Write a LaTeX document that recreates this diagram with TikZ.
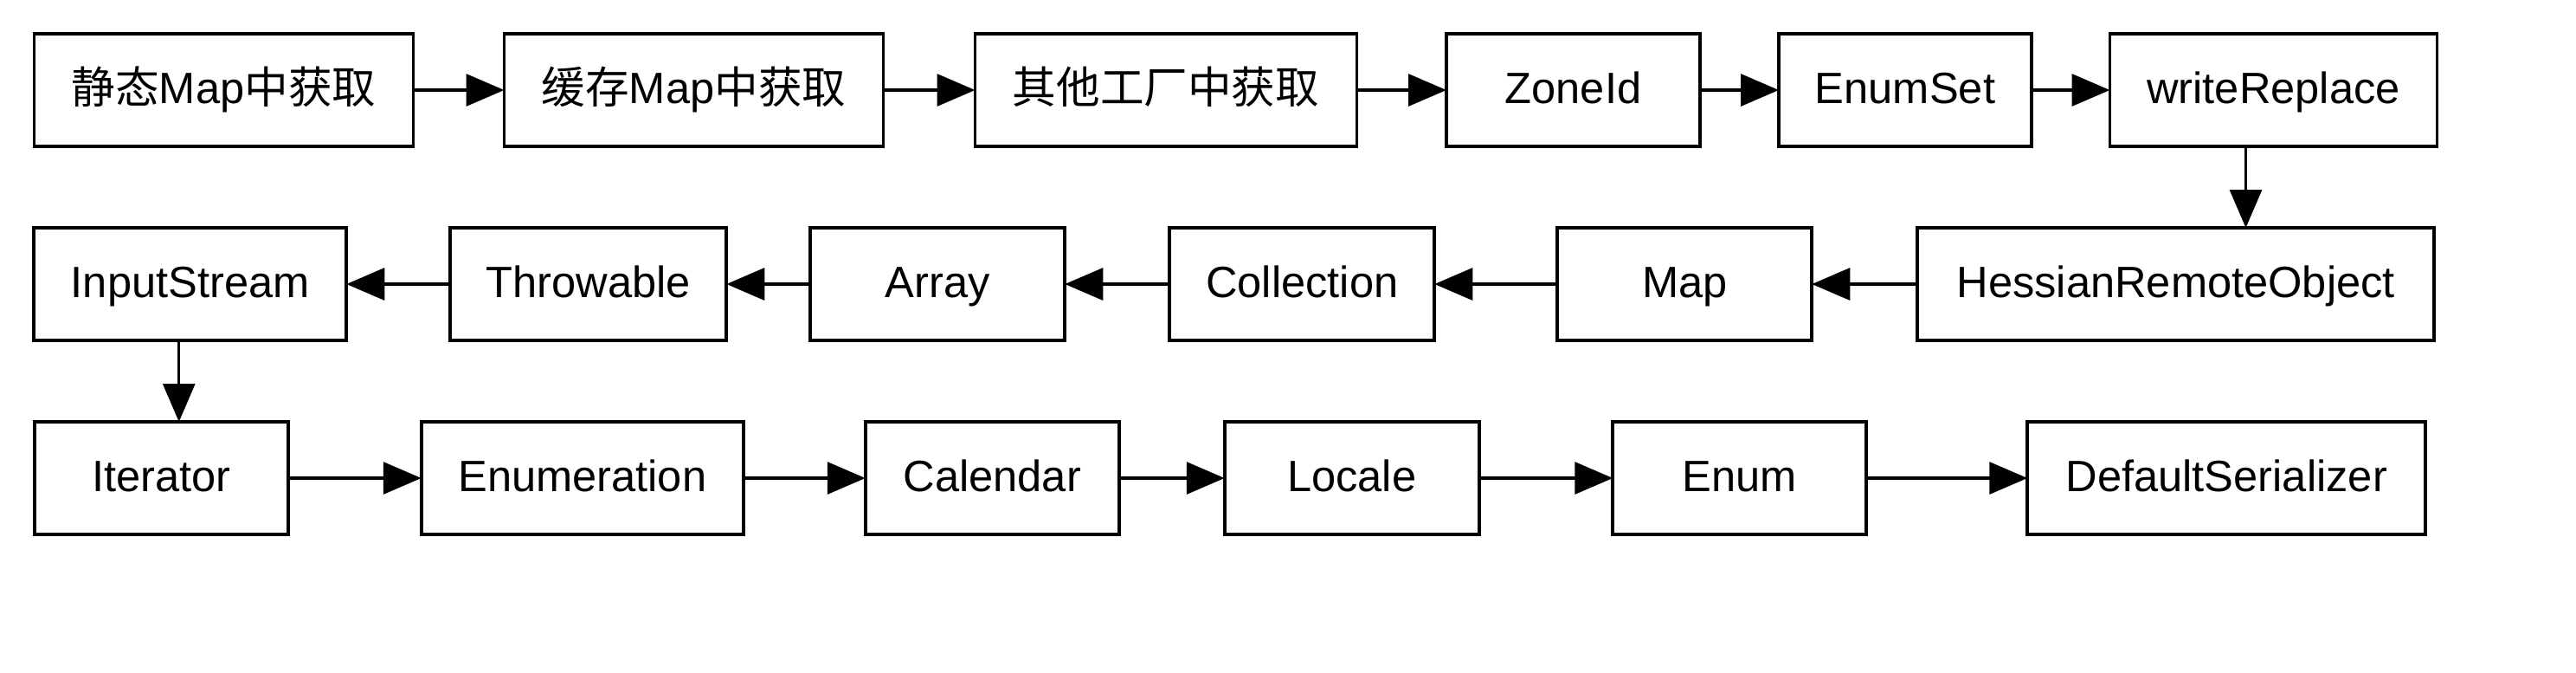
\documentclass[tikz,border=0pt]{standalone}
\usepackage{fontspec}
\setmainfont{Liberation Sans}
\newfontfamily\cjk{Noto Sans CJK SC}
\usetikzlibrary{arrows.meta,positioning}
\tikzset{
  stagebox/.style={
    rectangle, draw=black, line width=1.1pt,
    minimum width=#1, minimum height=1.3cm,
    font=\fontsize{14.4}{17}\selectfont, align=center,
    text height=11.5pt, text depth=2.9pt, inner sep=2pt, outer sep=0pt
  },
  stagebox/.default=2.93cm,
  flowarrow/.style={
    -{Triangle[length=0.44cm, width=0.37cm]}, line width=0.9pt, color=black
  },
}
\begin{document}
\begin{tikzpicture}
\useasboundingbox (0,0) rectangle (29.76,-7.76);

% Row 1: lookup order
\node[stagebox=4.38cm] (static) at (2.585,-1.04) {{\cjk 静态}Map{\cjk 中获取}};
\node[stagebox=4.38cm, right=1.05cm of static] (cache) {{\cjk 缓存}Map{\cjk 中获取}};
\node[stagebox=4.41cm, right=1.06cm of cache] (factory) {\cjk 其他工厂中获取};
\node[stagebox, right=1.035cm of factory] (zoneid) {ZoneId};
\node[stagebox=2.92cm, right=0.91cm of zoneid] (enumset) {EnumSet};
\node[stagebox=3.78cm, right=0.905cm of enumset] (writerepl) {writeReplace};

% Row 2: right to left
\node[stagebox=3.61cm] (instream) at (2.1975,-3.28) {InputStream};
\node[stagebox=3.19cm, right=1.2cm of instream] (throwable) {Throwable};
\node[stagebox=2.94cm, right=0.97cm of throwable] (array) {Array};
\node[stagebox=3.06cm, right=1.21cm of array] (collection) {Collection};
\node[stagebox=2.94cm, right=1.42cm of collection] (mapnode) {Map};
\node[stagebox=5.97cm, right=1.22cm of mapnode] (hessian) {HessianRemoteObject};

% Row 3: left to right
\node[stagebox] (iterator) at (1.8625,-5.52) {Iterator};
\node[stagebox=3.72cm, right=1.54cm of iterator] (enumeration) {Enumeration};
\node[stagebox, right=1.41cm of enumeration] (calendar) {Calendar};
\node[stagebox=2.94cm, right=1.22cm of calendar] (locale) {Locale};
\node[stagebox, right=1.545cm of locale] (enumnode) {Enum};
\node[stagebox=4.6cm, right=1.86cm of enumnode] (defser) {DefaultSerializer};

% connectors
\draw[flowarrow] (static) -- (cache);
\draw[flowarrow] (cache) -- (factory);
\draw[flowarrow] (factory) -- (zoneid);
\draw[flowarrow] (zoneid) -- (enumset);
\draw[flowarrow] (enumset) -- (writerepl);
\draw[flowarrow] ([xshift=-0.32cm]writerepl.south) -- ([xshift=-0.32cm]writerepl.south |- hessian.north);
\draw[flowarrow] (hessian) -- (mapnode);
\draw[flowarrow] (mapnode) -- (collection);
\draw[flowarrow] (collection) -- (array);
\draw[flowarrow] (array) -- (throwable);
\draw[flowarrow] (throwable) -- (instream);
\draw[flowarrow] ([xshift=-0.13cm]instream.south) -- ([xshift=-0.13cm]instream.south |- iterator.north);
\draw[flowarrow] (iterator) -- (enumeration);
\draw[flowarrow] (enumeration) -- (calendar);
\draw[flowarrow] (calendar) -- (locale);
\draw[flowarrow] (locale) -- (enumnode);
\draw[flowarrow] (enumnode) -- (defser);

\end{tikzpicture}
\end{document}
